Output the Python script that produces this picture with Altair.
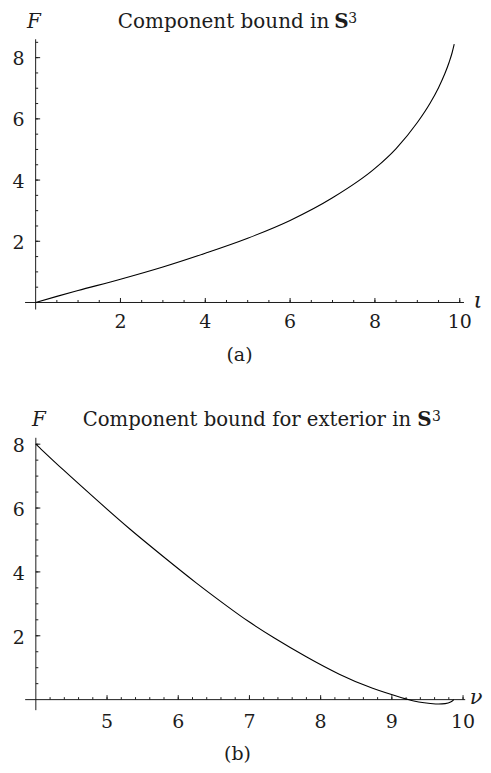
import altair as alt
import pandas as pd

# ---------------- data ----------------
# panel (a): F versus iota
iota = [0, 0.5, 1, 2, 3, 4, 5, 6, 7, 8, 8.5, 9.0, 9.3, 9.5, 9.65, 9.75, 9.82, 9.87]
F_a = [0, 0.2, 0.39, 0.76, 1.16, 1.61, 2.10, 2.68, 3.42, 4.38, 5.03, 5.88,
       6.51, 7.02, 7.48, 7.85, 8.16, 8.44]

# panel (b): F versus nu
nu = [4.0, 4.38, 4.85, 5.32, 5.79, 6.25, 6.72, 6.98, 7.33, 7.80, 8.26, 8.73,
      9.20, 9.30, 9.45, 9.62, 9.76, 9.83, 9.87]
F_b = [8.0, 7.20, 6.26, 5.33, 4.48, 3.65, 2.87, 2.45, 1.95, 1.33, 0.78, 0.33,
       0.02, -0.04, -0.10, -0.145, -0.13, -0.08, 0.0]

# tick labels
a_x_labels = [2, 4, 6, 8, 10]
a_y_labels = [2, 4, 6, 8]
b_x_labels = [5, 6, 7, 8, 9, 10]
b_y_labels = [2, 4, 6, 8]

# tick positions
a_x_minor = [k / 2 for k in range(1, 21)]
a_y_minor = [k / 2 for k in range(1, 18)]
b_x_minor = [4 + k / 5 for k in range(1, 31)]
b_y_minor = [k / 2 for k in range(1, 17)]

FONT = "DejaVu Serif"
INK = "#1c1c1c"
FS = 19
TFS = 20


def panel(cx, cy, xdom, ydom, W, H, x0, y0, xline, yline,
          xmaj, xmin, ymaj, ymin, xlab_dy, ylab_dy, notes, interp):
    xs = alt.Scale(domain=xdom, nice=False, zero=False)
    ys = alt.Scale(domain=ydom, nice=False, zero=False)

    def X(f):
        return alt.X(f, type="quantitative", scale=xs, axis=None)

    def Y(f):
        return alt.Y(f, type="quantitative", scale=ys, axis=None)

    layers = []
    # axis lines
    layers.append(
        alt.Chart(pd.DataFrame({"x": [xline[0]], "x2": [xline[1]], "y": [y0]}))
        .mark_rule(color=INK, strokeWidth=1)
        .encode(x=X("x"), x2="x2:Q", y=Y("y"))
    )
    layers.append(
        alt.Chart(pd.DataFrame({"y": [yline[0]], "y2": [yline[1]], "x": [x0]}))
        .mark_rule(color=INK, strokeWidth=1)
        .encode(y=Y("y"), y2="y2:Q", x=X("x"))
    )
    # x ticks
    layers.append(
        alt.Chart(pd.DataFrame({"x": xmin, "y": [y0] * len(xmin)}))
        .mark_rule(color=INK, strokeWidth=1, y2Offset=-2.5)
        .encode(x=X("x"), y=Y("y"), y2="y:Q")
    )
    layers.append(
        alt.Chart(pd.DataFrame({"x": xmaj, "y": [y0] * len(xmaj)}))
        .mark_rule(color=INK, strokeWidth=1, y2Offset=-4.5)
        .encode(x=X("x"), y=Y("y"), y2="y:Q")
    )
    # y ticks
    layers.append(
        alt.Chart(pd.DataFrame({"y": ymin, "x": [x0] * len(ymin)}))
        .mark_rule(color=INK, strokeWidth=1, x2Offset=2.5)
        .encode(y=Y("y"), x=X("x"), x2="x:Q")
    )
    layers.append(
        alt.Chart(pd.DataFrame({"y": ymaj, "x": [x0] * len(ymaj)}))
        .mark_rule(color=INK, strokeWidth=1, x2Offset=4.5)
        .encode(y=Y("y"), x=X("x"), x2="x:Q")
    )
    # tick labels
    layers.append(
        alt.Chart(pd.DataFrame({"x": xmaj, "y": [y0] * len(xmaj),
                                "t": [str(v) for v in xmaj]}))
        .mark_text(font=FONT, fontSize=FS, color=INK, baseline="middle",
                   align="center", dy=xlab_dy)
        .encode(x=X("x"), y=Y("y"), text="t:N")
    )
    layers.append(
        alt.Chart(pd.DataFrame({"y": ymaj, "x": [x0] * len(ymaj),
                                "t": [str(v) for v in ymaj]}))
        .mark_text(font=FONT, fontSize=FS, color=INK, baseline="middle",
                   align="right", dx=-11, dy=ylab_dy)
        .encode(x=X("x"), y=Y("y"), text="t:N")
    )
    # curve
    layers.append(
        alt.Chart(pd.DataFrame({"x": cx, "y": cy}))
        .mark_line(color="black", strokeWidth=1.1, interpolate=interp)
        .encode(x=X("x"), y=Y("y"))
    )
    # annotations (titles, axis names, panel letter)
    for n in notes:
        layers.append(
            alt.Chart(pd.DataFrame({"t": [n["t"]]}))
            .mark_text(font=FONT, fontSize=n.get("size", FS), color=INK,
                       align=n.get("align", "left"),
                       baseline=n.get("baseline", "alphabetic"),
                       fontStyle=n.get("style", "normal"),
                       fontWeight=n.get("weight", "normal"))
            .encode(x=alt.value(n["x"]), y=alt.value(n["y"]), text="t:N")
        )
    return alt.layer(*layers).properties(width=W, height=H)


W = 475
HA = 377
HB = 380

notes_a = [
    {"t": "F", "x": 19, "y": 19, "style": "italic", "size": TFS},
    {"t": "Component bound in", "x": 322, "y": 19, "align": "right", "size": TFS},
    {"t": "S", "x": 327, "y": 19, "weight": "bold", "size": TFS},
    {"t": "3", "x": 341, "y": 14, "size": 14},
    {"t": "\u03b9", "x": 471, "y": 300, "style": "italic", "align": "center", "size": 23},
    {"t": "(a)", "x": 232, "y": 347, "align": "center", "baseline": "middle"},
]
notes_b = [
    {"t": "F", "x": 24, "y": 41, "style": "italic", "size": TFS},
    {"t": "Component bound for exterior in", "x": 404, "y": 41, "align": "right", "size": 19.7},
    {"t": "S", "x": 410, "y": 41, "weight": "bold", "size": TFS},
    {"t": "3", "x": 425, "y": 36, "size": 14},
    {"t": "\u03bd", "x": 469, "y": 320, "style": "italic", "align": "center", "size": 21},
    {"t": "(b)", "x": 230, "y": 380, "align": "center", "baseline": "bottom"},
]

pa = panel(iota, F_a, [-0.652, 10.525], [-2.696, 9.596], W, HA, 0, 0,
           [-0.25, 10.1], [-0.23, 8.6], a_x_labels, a_x_minor,
           a_y_labels, a_y_minor, 19.4, 1.5, notes_a, "monotone")
pb = panel(nu, F_b, [3.609, 10.266], [-2.022, 9.853], W, HB, 4, 0,
           [3.85, 10.03], [-0.33, 8.2], b_x_labels, b_x_minor,
           b_y_labels, b_y_minor, 22, 2, notes_b, "basis")

chart = (
    alt.vconcat(pa, pb, spacing=0)
    .properties(padding=0, background="white")
    .configure_view(stroke=None)
)

chart.save("out.html", embed_options={"renderer": "svg", "actions": False})
